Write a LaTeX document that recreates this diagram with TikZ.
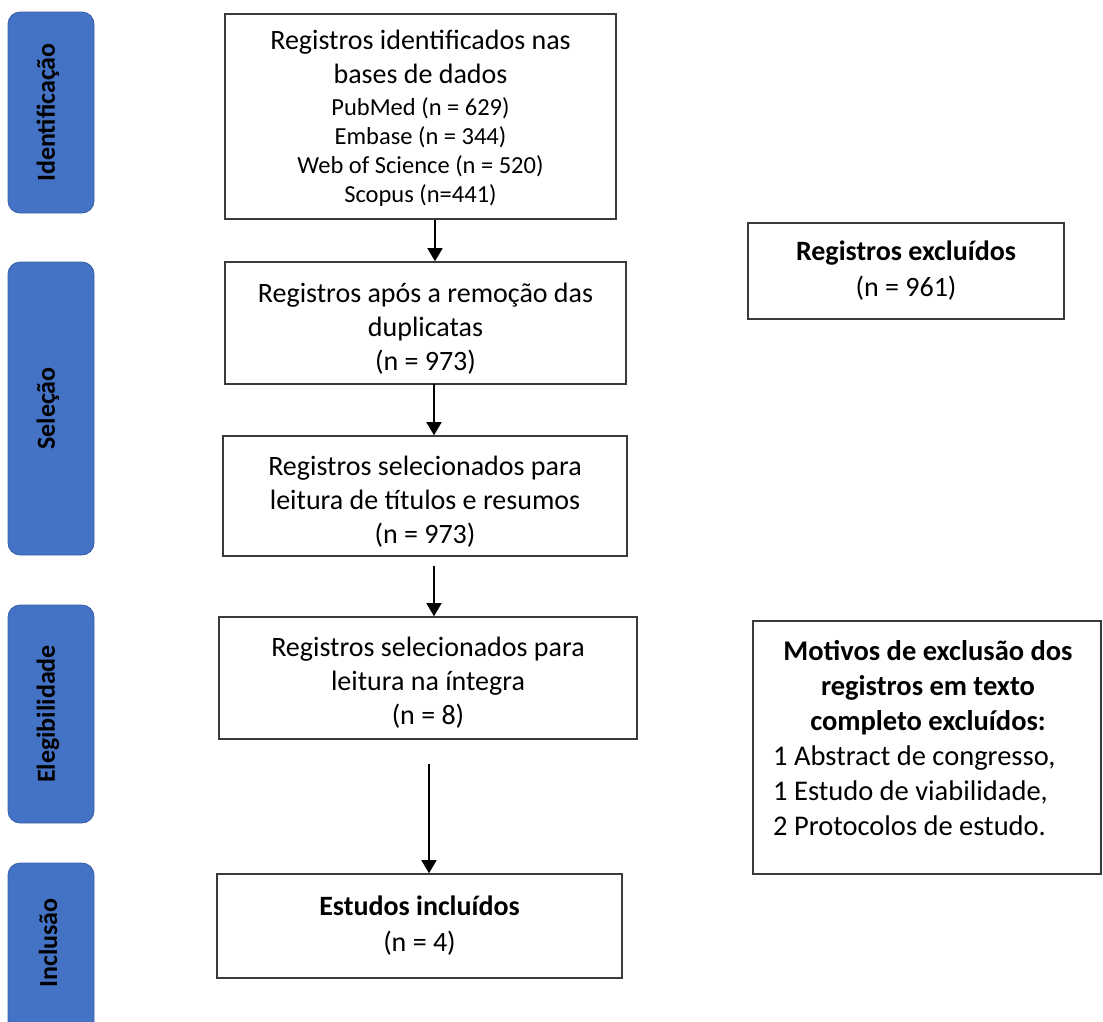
\documentclass[tikz,border=0pt]{standalone}
\usepackage{fontspec}
\setmainfont{Carlito}
\usetikzlibrary{arrows.meta}
\definecolor{sidebl}{HTML}{4472C4}
\definecolor{boxline}{HTML}{3A3A3A}
\begin{document}
\begin{tikzpicture}[x=1pt,y=-1pt,
  side/.style={fill=sidebl, draw=sidebl!85!black, line width=0.8pt, rounded corners=12pt, minimum width=86pt, inner sep=0pt},
  sidetxt/.style={rotate=90, font=\fontsize{26}{28}\selectfont\bfseries, text=black},
  flow/.style={draw=boxline, line width=1.6pt, inner sep=0pt},
  txt/.style={inner sep=0pt, align=center, font=\fontsize{28}{34}\selectfont},
  small/.style={font=\fontsize{24.5}{29.5}\selectfont},
  arr/.style={line width=1.5pt, -{Triangle[width=15pt,length=13pt]}}
]
\useasboundingbox (0,0) rectangle (1103,1021);
% side bars
\node[side, minimum height=201pt] (s1) at (51,112.5) {};
\node[sidetxt] (t1) at (48,112.5) {Identificação};
\node[side, minimum height=293pt] (s2) at (51,408.5) {};
\node[sidetxt] (t2) at (48,408.5) {Seleção};
\node[side, minimum height=218pt] (s3) at (51,714) {};
\node[sidetxt] (t3) at (48,714) {Elegibilidade};
\node[side, minimum height=180pt] (s4) at (51,953) {};
\node[sidetxt] (t4) at (48,943) {Inclusão};
% flow boxes
\node[flow, minimum width=391pt, minimum height=205pt] (b1) at (420.5,116.5) {};
\node[txt] (b1t) at ([yshift=-2pt]b1.center) {Registros identificados nas\\bases de dados\\[-2pt]
  {\fontsize{24.5}{29.5}\selectfont PubMed (n = 629)}\\[-5pt]
  {\fontsize{24.5}{29.5}\selectfont Embase (n = 344)}\\[-5pt]
  {\fontsize{24.5}{29.5}\selectfont Web of Science (n = 520)}\\[-5pt]
  {\fontsize{24.5}{29.5}\selectfont Scopus (n=441)}};
\node[flow, minimum width=401pt, minimum height=122pt] (b2) at (425.5,323) {};
\node[txt] (b2t) at ([yshift=-6pt]b2.center) {Registros após a remoção das\\duplicatas\\(n = 973)};
\node[flow, minimum width=404pt, minimum height=120pt] (b3) at (425,496) {};
\node[txt] (b3t) at ([yshift=-6pt]b3.center) {Registros selecionados para\\leitura de títulos e resumos\\(n = 973)};
\node[flow, minimum width=418pt, minimum height=122pt] (b4) at (428,678) {};
\node[txt] (b4t) at ([yshift=-5pt]b4.center) {Registros selecionados para\\leitura na íntegra\\(n = 8)};
\node[flow, minimum width=405pt, minimum height=104pt] (b5) at (419.5,926) {};
\node[txt] (b5t) at ([yshift=0pt]b5.center) {\textbf{Estudos incluídos}\\[2pt](n = 4)};
\node[flow, minimum width=316pt, minimum height=96pt] (r1) at (906,271) {};
\node[txt] (r1t) at (r1.center) {\textbf{Registros excluídos}\\[2pt](n = 961)};
\node[flow, minimum width=348pt, minimum height=253pt] (r2) at (927,747.5) {};
\node[font=\fontsize{28.5}{35}\selectfont, align=center, anchor=north, inner sep=0pt] (r2h) at (928,640) {\textbf{Motivos de exclusão dos}\\\textbf{registros em texto}\\\textbf{completo excluídos:}};
\node[font=\fontsize{28.5}{35}\selectfont, align=left, anchor=north west, inner sep=0pt] (r2l) at (773,745) {1 Abstract de congresso,\\1 Estudo de viabilidade,\\2 Protocolos de estudo.};
% arrows
\coordinate (a1) at (435,220);
\coordinate (a2) at (434,384);
\coordinate (a3) at (434,566);
\coordinate (a4) at (429,764);
\draw[arr] (a1) -- (a1 |- b2.north);
\draw[arr] (a2) -- (a2 |- b3.north);
\draw[arr] (a3) -- (a3 |- b4.north);
\draw[arr] (a4) -- (a4 |- b5.north);
\end{tikzpicture}
\end{document}
